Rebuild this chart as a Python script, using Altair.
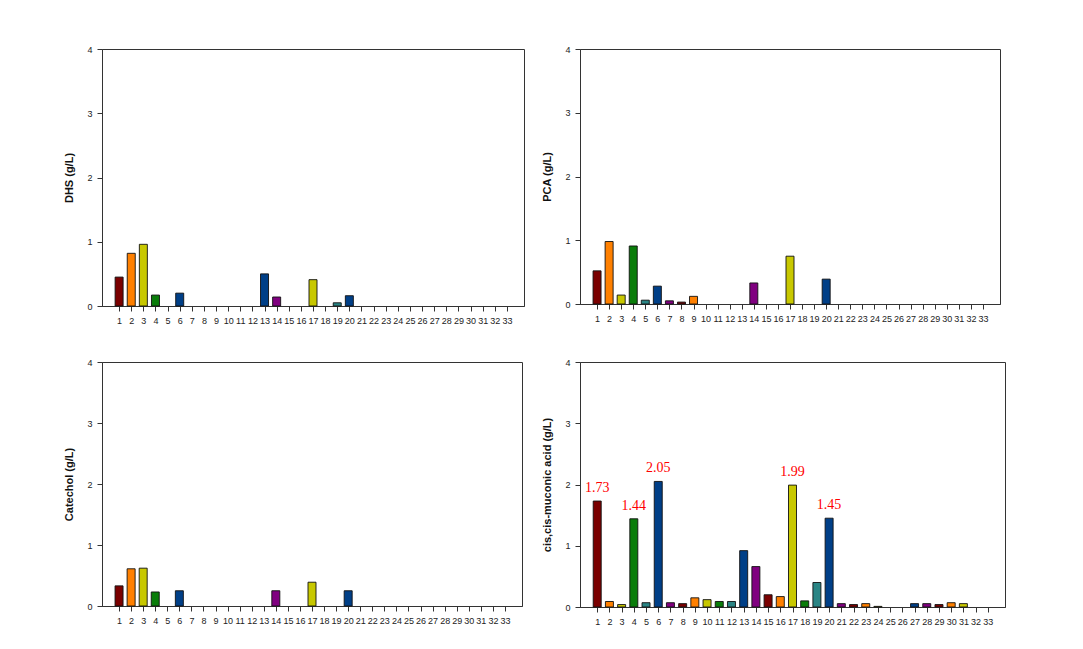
import altair as alt
import pandas as pd

samples = list(range(1, 34))

dhs = [0.45, 0.82, 0.96, 0.17, 0, 0.20, 0, 0, 0, 0, 0, 0, 0.50, 0.14, 0, 0, 0.41,
       0, 0.05, 0.16, 0, 0, 0, 0, 0, 0, 0, 0, 0, 0, 0, 0, 0]
pca = [0.52, 0.98, 0.14, 0.91, 0.06, 0.28, 0.05, 0.03, 0.12, 0, 0, 0, 0, 0.33, 0, 0, 0.75,
       0, 0, 0.39, 0, 0, 0, 0, 0, 0, 0, 0, 0, 0, 0, 0, 0]
catechol = [0.33, 0.61, 0.62, 0.23, 0, 0.25, 0, 0, 0, 0, 0, 0, 0, 0.25, 0, 0, 0.39,
            0, 0, 0.25, 0, 0, 0, 0, 0, 0, 0, 0, 0, 0, 0, 0, 0]
muconic = [1.73, 0.09, 0.04, 1.44, 0.07, 2.05, 0.07, 0.055, 0.15, 0.12, 0.09, 0.09, 0.92,
           0.66, 0.20, 0.17, 1.99, 0.10, 0.40, 1.45, 0.055, 0.04, 0.055, 0.01, 0, 0,
           0.055, 0.055, 0.04, 0.07, 0.055, 0, 0]
labeled_samples = [1, 4, 6, 17, 20]

palette = ["#7a0000", "#ff8000", "#c8c800", "#0a7d0a", "#2a8585", "#003f87", "#800080"]
y_ticks = [0, 1, 2, 3, 4]


def panel(vals, title, w, h, labels=None):
    df = pd.DataFrame({
        "sample": samples,
        "value": vals,
        "grp": [(s - 1) % len(palette) for s in samples],
    })
    x = alt.X("sample:Q",
              scale=alt.Scale(domain=[0, 34], nice=False, zero=False),
              axis=alt.Axis(values=samples, title=None, labelOverlap=False, grid=False,
                            labelFlush=False, labelPadding=5))
    y = alt.Y("value:Q",
              scale=alt.Scale(domain=[0, 4], nice=False),
              axis=alt.Axis(values=y_ticks, title=title, grid=False, titlePadding=12,
                            labelPadding=5))
    bars = alt.Chart(df).transform_filter("datum.value > 0").mark_bar(
        size=8, stroke="#111111", strokeWidth=0.9
    ).encode(
        x=x, y=y,
        color=alt.Color("grp:N", scale=alt.Scale(domain=list(range(len(palette))), range=palette),
                        legend=None),
    )
    layers = [bars]
    if labels:
        ldf = df[df["sample"].isin(labels)].copy()
        ldf["txt"] = ldf["value"].map(lambda v: f"{v:.2f}")
        txt = alt.Chart(ldf).mark_text(
            font="Liberation Serif", fontSize=14, color="#ff0000",
            baseline="alphabetic", dy=-9
        ).encode(x=x, y=y, text="txt:N")
        layers.append(txt)
    return alt.layer(*layers).properties(width=w, height=h)


p1 = panel(dhs, "DHS (g/L)", 422, 257)
p2 = panel(pca, "PCA (g/L)", 420, 255)
p3 = panel(catechol, "Catechol (g/L)", 420, 244)
p4 = panel(muconic, "cis,cis-muconic acid (g/L)", 425, 245, labels=labeled_samples)

chart = alt.concat(
    p1, p2, p3, p4, columns=2, spacing={"row": 56, "column": 56}, bounds="flush"
).properties(
    padding={"left": 55, "top": 36, "right": 10, "bottom": 10},
    background="white",
).configure_axis(
    labelFont="Liberation Sans", labelFontSize=9, labelColor="#222222",
    titleFont="Liberation Sans", titleFontSize=11, titleFontWeight="bold", titleColor="#111111",
    domainColor="#333333", tickColor="#333333", tickSize=5,
).configure_view(
    stroke="#333333", strokeWidth=1,
)

chart.save("out.html", embed_options={"renderer": "svg", "actions": False})
